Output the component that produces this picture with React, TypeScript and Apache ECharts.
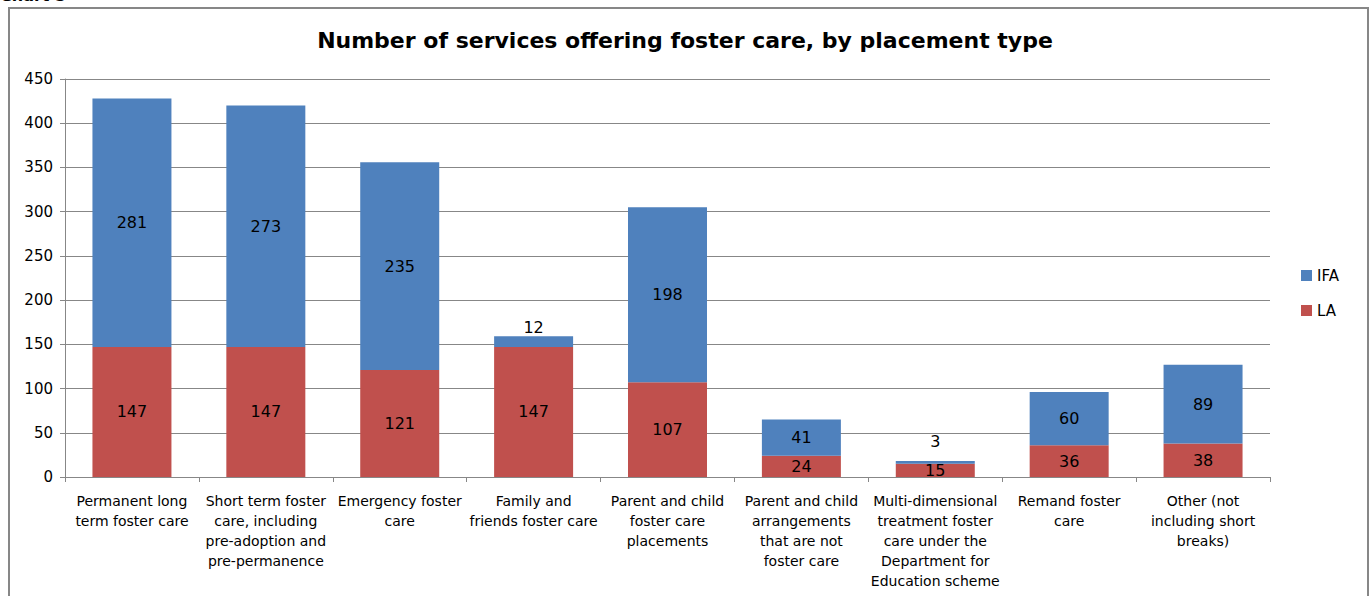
import React, { useEffect, useRef } from "react";
import * as echarts from "echarts";

const categories = [
  "Permanent long\nterm foster care",
  "Short term foster\ncare, including\npre-adoption and\npre-permanence",
  "Emergency foster\ncare",
  "Family and\nfriends foster care",
  "Parent and child\nfoster care\nplacements",
  "Parent and child\narrangements\nthat are not\nfoster care",
  "Multi-dimensional\ntreatment foster\ncare under the\nDepartment for\nEducation scheme",
  "Remand foster\ncare",
  "Other (not\nincluding short\nbreaks)",
];
const laValues = [147, 147, 121, 147, 107, 24, 15, 36, 38];
const ifaValues = [281, 273, 235, 12, 198, 41, 3, 60, 89];
const titleText = "Number of services offering foster care, by placement type";

const FONT = "DejaVu Sans";

export default function App() {
  const ref = useRef<HTMLDivElement>(null);
  useEffect(() => {
    const chart = echarts.init(ref.current!, null, { renderer: "svg" });
    const ifaData = ifaValues.map((v) => {
      if (v < 20) {
        return {
          value: v,
          label: { position: "top", distance: v < 5 ? 12 : 1 },
        };
      }
      return { value: v };
    });
    chart.setOption({
      animation: false,
      backgroundColor: "#ffffff",
      textStyle: { fontFamily: FONT },
      title: {
        text: titleText,
        left: "center",
        top: 24,
        textStyle: { fontFamily: FONT, fontWeight: "bold", fontSize: 22, color: "#000" },
      },
      legend: {
        orient: "vertical",
        left: 1296,
        top: 263,
        itemWidth: 11,
        itemHeight: 11,
        itemGap: 20,
        icon: "rect",
        data: ["IFA", "LA"],
        textStyle: { fontFamily: FONT, fontSize: 15, color: "#000" },
      },
      grid: { left: 65, right: 100, top: 79, bottom: 119, containLabel: false },
      xAxis: {
        type: "category",
        data: categories,
        axisLine: { lineStyle: { color: "#878787", width: 1 } },
        axisTick: { show: true, length: 5, lineStyle: { color: "#878787" } },
        axisLabel: {
          interval: 0,
          fontFamily: FONT,
          fontSize: 14,
          lineHeight: 20,
          color: "#000",
          margin: 14,
        },
      },
      yAxis: {
        type: "value",
        min: 0,
        max: 450,
        interval: 50,
        axisLine: { show: true, lineStyle: { color: "#878787" } },
        axisTick: { show: true, length: 5, lineStyle: { color: "#878787" } },
        splitLine: { lineStyle: { color: "#878787", width: 1 } },
        axisLabel: { fontFamily: FONT, fontSize: 15, color: "#000", margin: 12 },
      },
      series: [
        {
          name: "LA",
          type: "bar",
          stack: "total",
          data: laValues,
          barWidth: "59%",
          itemStyle: { color: "#C0504D" },
          label: { show: true, position: "inside", fontFamily: FONT, fontSize: 16, color: "#000" },
        },
        {
          name: "IFA",
          type: "bar",
          stack: "total",
          data: ifaData,
          barWidth: "59%",
          itemStyle: { color: "#4F81BD" },
          label: { show: true, position: "inside", fontFamily: FONT, fontSize: 16, color: "#000" },
        },
      ],
      graphic: [
        {
          type: "rect",
          shape: { x: 9, y: 8, width: 1359, height: 600 },
          style: { fill: "none", stroke: "#878787", lineWidth: 2 },
          silent: true,
        },
        {
          type: "text",
          left: 0,
          top: -13,
          style: { text: "Chart 5", fontFamily: FONT, fontWeight: "bold", fontSize: 16, fill: "#000" },
        },
      ],
    });
    return () => chart.dispose();
  }, []);
  return (
    <div
      ref={ref}
      style={{ position: "fixed", left: 0, top: 0, width: 1370, height: 596 }}
    />
  );
}
